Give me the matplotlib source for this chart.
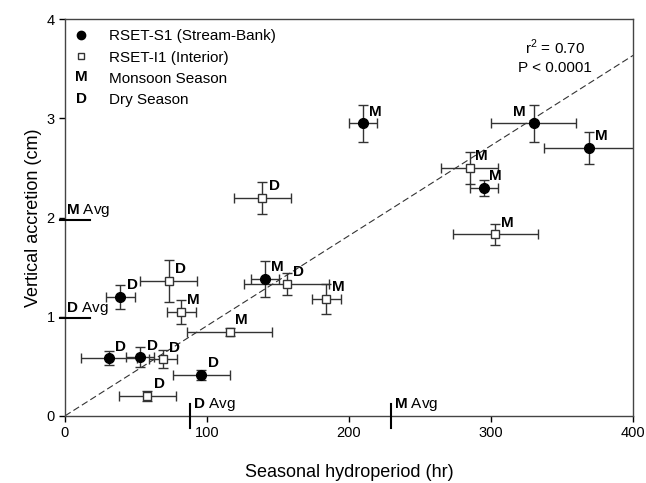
import matplotlib
matplotlib.use("Agg")
import matplotlib.pyplot as plt
from matplotlib.lines import Line2D
from matplotlib.text import Text
from matplotlib.legend_handler import HandlerBase

plt.rcParams["font.family"] = ["Liberation Sans", "DejaVu Sans"]
plt.rcParams["mathtext.fontset"] = "custom"
plt.rcParams["mathtext.rm"] = "Liberation Sans"
plt.rcParams["mathtext.bf"] = "Liberation Sans:bold"

# RSET-S1 (Stream-Bank), filled circles
s1_x = [210, 330, 369, 295, 141, 39, 31, 53, 96]
s1_y = [2.95, 2.95, 2.70, 2.30, 1.38, 1.20, 0.58, 0.59, 0.41]
s1_xerr = [10, 30, 32, 10, 10, 10, 20, 10, 20]
s1_yerr = [0.19, 0.19, 0.16, 0.08, 0.18, 0.12, 0.07, 0.10, 0.05]
s1_season = ["M", "M", "M", "M", "M", "D", "D", "D", "D"]

# RSET-I1 (Interior), open squares
i1_x = [139, 285, 303, 73, 82, 116, 156, 184, 69, 58]
i1_y = [2.20, 2.50, 1.83, 1.36, 1.05, 0.85, 1.33, 1.18, 0.57, 0.20]
i1_xerr = [20, 20, 30, 20, 10, 30, 30, 10, 10, 20]
i1_yerr = [0.16, 0.16, 0.11, 0.21, 0.12, 0.04, 0.11, 0.15, 0.09, 0.05]
i1_season = ["D", "M", "M", "D", "M", "M", "D", "M", "D", "D"]

# seasonal averages
avg_hydro = {"D": 87.7, "M": 229.5}
avg_accr = {"D": 0.99, "M": 1.98}

# regression through origin
fit_x = [0, 400]
fit_y = [0, 3.636]


class LetterHandler(HandlerBase):
    """Legend handle that is just a bold letter."""
    def __init__(self, letter):
        super().__init__()
        self.letter = letter

    def create_artists(self, legend, orig_handle, xdescent, ydescent,
                       width, height, fontsize, trans):
        t = Text(width / 2 - xdescent, height / 2 - ydescent, self.letter,
                 ha="center", va="center", fontsize=fontsize, fontweight="bold",
                 transform=trans)
        return [t]


fig, ax = plt.subplots(figsize=(6.46, 4.83), dpi=100)
fig.subplots_adjust(left=0.1006, right=0.98, bottom=0.139, top=0.96)

ax.plot(fit_x, fit_y, ls=(0, (6, 3)), color="#333333", lw=0.8, zorder=1)

ebar = dict(ecolor="#333333", elinewidth=1.0, capsize=3.5, capthick=1.0, ls="none", zorder=2)
ax.errorbar(s1_x, s1_y, xerr=s1_xerr, yerr=s1_yerr, fmt="o", ms=7,
            mfc="black", mec="black", **ebar)
ax.errorbar(i1_x, i1_y, xerr=i1_xerr, yerr=i1_yerr, fmt="s", ms=5.5,
            mfc="white", mec="#333333", mew=1.0, **ebar)

# season labels beside each point
for xs, ys, ss in [(s1_x, s1_y, s1_season), (i1_x, i1_y, i1_season)]:
    for x, y, s in zip(xs, ys, ss):
        dx = -10.5 if (x == 330 and s == "M") else 8.5
        ax.annotate(s, (x, y), xytext=(dx, 8.5), textcoords="offset points",
                    ha="center", va="center", fontsize=11, fontweight="bold")

# average markers on the axes
for s, xv in avg_hydro.items():
    ax.plot([xv, xv], [-0.12, 0.12], color="black", lw=1.5, clip_on=False, zorder=5)
    ax.text(xv + 2.5, 0.03, r"$\mathbf{" + s + r"}$ Avg", fontsize=11,
            ha="left", va="bottom")
for s, yv in avg_accr.items():
    ax.plot([-3.5, 17.5], [yv, yv], color="black", lw=1.5, clip_on=False, zorder=5)
    ax.text(1.0, yv + 0.01, r"$\mathbf{" + s + r"}$ Avg", fontsize=11,
            ha="left", va="bottom")

ax.text(345, 3.72, r"r$^2$ = 0.70", fontsize=11, ha="center", va="center")
ax.text(345, 3.51, "P < 0.0001", fontsize=11, ha="center", va="center")

h_s1 = Line2D([], [], marker="o", ls="none", color="black", ms=6)
h_i1 = Line2D([], [], marker="s", ls="none", mfc="white", mec="#333333", ms=5)
h_m = Line2D([], [])
h_d = Line2D([], [])
labels = ["RSET-S1 (Stream-Bank)", "RSET-I1 (Interior)", "Monsoon Season", "Dry Season"]
ax.legend([h_s1, h_i1, h_m, h_d], labels, loc="upper left",
          bbox_to_anchor=(0.004, 0.99), frameon=False, fontsize=11,
          handlelength=1.0, handletextpad=1.3, labelspacing=0.47,
          borderaxespad=0.0, borderpad=0.4,
          handler_map={h_m: LetterHandler("M"), h_d: LetterHandler("D")})

ax.set_xlim(0, 400)
ax.set_ylim(0, 4)
ax.set_xticks([0, 100, 200, 300, 400])
ax.set_yticks([0, 1, 2, 3, 4])
ax.tick_params(direction="out", length=4, width=1, labelsize=10.5, colors="black")
for sp in ax.spines.values():
    sp.set_color("#444444")
    sp.set_linewidth(1.0)

ax.set_xlabel("Seasonal hydroperiod (hr)", fontsize=13, labelpad=17)
ax.set_ylabel("Vertical accretion (cm)", fontsize=13, labelpad=3)

fig.savefig("out.png", dpi=100)
